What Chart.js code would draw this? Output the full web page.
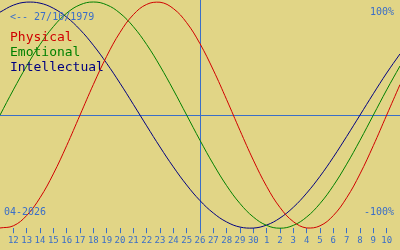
<!DOCTYPE html>
<html>
<head>
<meta charset="utf-8">
<script src="https://cdn.jsdelivr.net/npm/chart.js@4"></script>
<style>
  html, body { margin: 0; padding: 0; background: #e1d586; }
  #wrap { width: 400px; height: 250px; position: relative; }
</style>
</head>
<body>
<div id="wrap"><canvas id="canvas"></canvas></div>
<script>
// day labels along the bottom (index 0 = 11 April, index 30 = 11 May)
const dayLabels = ['', '12', '13', '14', '15', '16', '17', '18', '19', '20', '21', '22', '23', '24', '25',
  '26', '27', '28', '29', '30', '1', '2', '3', '4', '5', '6', '7', '8', '9', '10', ''];
const todayIndex = 15;

const physical = [-0.998, -0.979, -0.888, -0.731, -0.520, -0.270, 0.000, 0.270, 0.520, 0.731,
  0.888, 0.979, 0.998, 0.942, 0.817, 0.631, 0.398, 0.136, -0.136, -0.398,
  -0.631, -0.817, -0.942, -0.998, -0.979, -0.888, -0.731, -0.520, -0.270, 0.000, 0.270];
const emotional = [0.000, 0.223, 0.434, 0.624, 0.782, 0.901, 0.975, 1.000, 0.975, 0.901,
  0.782, 0.624, 0.434, 0.223, 0.000, -0.223, -0.434, -0.624, -0.782, -0.901,
  -0.975, -1.000, -0.975, -0.901, -0.782, -0.624, -0.434, -0.223, 0.000, 0.223, 0.434];
const intellectual = [0.910, 0.972, 0.999, 0.990, 0.945, 0.866, 0.756, 0.618, 0.458, 0.282,
  0.095, -0.095, -0.282, -0.458, -0.618, -0.756, -0.866, -0.945, -0.990, -0.999,
  -0.972, -0.910, -0.815, -0.690, -0.541, -0.372, -0.189, 0.000, 0.189, 0.372, 0.541];

const seriesNames = ['Physical', 'Emotional', 'Intellectual'];
const seriesColors = ['#d00000', '#008000', '#000080'];
const birthText = '<-- 27/10/1979';
const monthText = '04-2026';
const topText = '100%';
const bottomText = '-100%';

const blue = '#3a6ec8';

function pts(arr) {
  return arr.map((v, i) => ({ x: i, y: v }));
}

const overlay = {
  id: 'overlay',
  beforeDatasetsDraw(chart) {
    const c = chart.ctx;
    const xs = chart.scales.x, ys = chart.scales.y;
    const ca = chart.chartArea;
    c.save();
    c.strokeStyle = blue;
    c.lineWidth = 1;
    const y0 = Math.round(ys.getPixelForValue(0)) + 0.5;
    c.beginPath();
    c.moveTo(0, y0);
    c.lineTo(chart.width, y0);
    c.stroke();
    const xt = Math.round(xs.getPixelForValue(todayIndex)) + 0.5;
    c.beginPath();
    c.moveTo(xt, 0);
    c.lineTo(xt, ca.bottom + 5);
    c.stroke();
    c.restore();
  },
  afterDraw(chart) {
    const c = chart.ctx;
    c.save();
    c.textBaseline = 'middle';
    c.fillStyle = blue;
    c.font = '10px "DejaVu Sans Mono"';
    c.textAlign = 'left';
    c.fillText(birthText, 10, 17);
    c.fillText(monthText, 4, 212);
    c.textAlign = 'right';
    c.fillText(topText, 394, 12);
    c.fillText(bottomText, 394, 212);
    c.textAlign = 'left';
    c.font = '13px "DejaVu Sans Mono"';
    seriesNames.forEach((n, i) => {
      c.fillStyle = seriesColors[i];
      c.fillText(n, 10, 38 + i * 15);
    });
    c.restore();
  }
};

const data = {
  datasets: [physical, emotional, intellectual].map((arr, i) => ({
    label: seriesNames[i],
    data: pts(arr),
    borderColor: seriesColors[i],
    borderWidth: 1,
    pointRadius: 0,
    tension: 0.4,
    fill: false,
    clip: false
  }))
};

const config = {
  type: 'line',
  data: data,
  options: {
    responsive: true,
    maintainAspectRatio: false,
    animation: false,
    layout: { padding: { top: 2, bottom: 2, left: 0, right: 0 } },
    plugins: { legend: { display: false }, tooltip: { enabled: false } },
    scales: {
      x: {
        type: 'linear',
        min: 0,
        max: 30,
        afterBuildTicks(scale) {
          scale.ticks = dayLabels.map((l, i) => ({ value: i })).filter(t => dayLabels[t.value] !== '');
        },
        border: { display: false },
        grid: { drawOnChartArea: false, drawTicks: true, tickLength: 5, color: blue },
        ticks: {
          autoSkip: false,
          maxRotation: 0,
          padding: 2,
          color: blue,
          font: { family: 'DejaVu Sans Mono', size: 9 },
          callback: (v) => dayLabels[v]
        }
      },
      y: {
        display: false,
        min: -1,
        max: 1
      }
    }
  },
  plugins: [overlay]
};

const chart = new Chart(document.getElementById('canvas'), config);
</script>
</body>
</html>
